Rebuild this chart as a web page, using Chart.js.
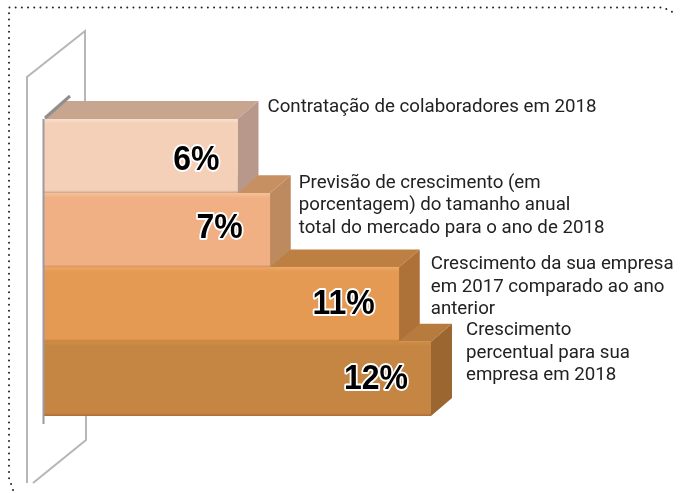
<!DOCTYPE html>
<html>
<head>
<meta charset="utf-8">
<style>
    html, body { margin: 0; padding: 0; background: #fff; }
    #wrap { position: relative; width: 680px; height: 493px; }
</style>
<script src="https://cdn.jsdelivr.net/npm/chart.js@4"></script>
</head>
<body>
<div id="wrap"><canvas id="chart" width="680" height="493"></canvas></div>
<script>
const categories = [
    ['Contratação de colaboradores em 2018'],
    ['Previsão de crescimento (em', 'porcentagem) do tamanho anual', 'total do mercado para o ano de 2018'],
    ['Crescimento da sua empresa', 'em 2017 comparado ao ano', 'anterior'],
    ['Crescimento', 'percentual para sua', 'empresa em 2018']
];
const values = [6, 7, 11, 12];
const frontEdge = ['#fbdfcc', '#f7c097', '#eea55f', '#cf8c45'];
const frontFace = ['#f5d0b9', '#f0b083', '#e59a54', '#c58643'];
const frontShade = ['#c9a088', '#c98f62', '#c47c36', '#b06a35'];
const topFaces = ['#c7a58e', '#c79062', '#bd7f42', '#b67b3d'];
const sideFaces = ['#b8988a', '#bd8a60', '#ad7238', '#9c6630'];

// label offset from the bar's front top right corner
const labelDx = [30, 29, 32, 35];
const labelDy = [-12, -10, -3, -11];
// value offset from the bar's right end / centre
const valueDx = [18, 27, 24, 23];
const valueDy = [4, -2, -1, 0];
const depthX = 21, depthY = 18;

// extruded faces + back wall, all hung off the scales
const box3d = {
    id: 'box3d',
    beforeDatasetsDraw(chart) {
        const ctx = chart.ctx;
        const x0 = chart.scales.x.getPixelForValue(0);
        const area = chart.chartArea;
        const bars = chart.getDatasetMeta(0).data;

        // wall behind the bars
        ctx.save();
        ctx.strokeStyle = '#b4b6ba';
        ctx.lineWidth = 2;
        ctx.beginPath();
        ctx.moveTo(x0 - 17, area.bottom + 67);
        ctx.lineTo(x0 - 17, area.top - 42);
        ctx.lineTo(x0 + 41, area.top - 88);
        ctx.lineTo(x0 + 41, area.top - 18);
        ctx.moveTo(x0 + 42, area.bottom);
        ctx.lineTo(x0 + 42, area.bottom + 24);
        ctx.lineTo(x0 - 11, area.bottom + 67);
        ctx.stroke();
        ctx.restore();

        for (let i = bars.length - 1; i >= 0; i--) {
            const b = bars[i];
            const top = b.y - b.height / 2, bottom = b.y + b.height / 2;
            ctx.fillStyle = topFaces[i];
            ctx.beginPath();
            ctx.moveTo(x0, top);
            ctx.lineTo(x0 + depthX, top - depthY);
            ctx.lineTo(b.x + depthX, top - depthY);
            ctx.lineTo(b.x, top);
            ctx.closePath();
            ctx.fill();
            ctx.fillStyle = sideFaces[i];
            ctx.beginPath();
            ctx.moveTo(b.x, top);
            ctx.lineTo(b.x + depthX, top - depthY);
            ctx.lineTo(b.x + depthX, bottom - depthY);
            ctx.lineTo(b.x, bottom);
            ctx.closePath();
            ctx.fill();
        }
        // dark sliver where the first bar meets the wall
        const first = bars[0];
        const firstTop = first.y - first.height / 2;
        ctx.strokeStyle = '#8f8f8f';
        ctx.lineWidth = 3;
        ctx.beginPath();
        ctx.moveTo(x0 + 1, firstTop - 1);
        ctx.lineTo(x0 + 26, firstTop - 23);
        ctx.stroke();
    },
    afterDatasetsDraw(chart) {
        const ctx = chart.ctx;
        const bars = chart.getDatasetMeta(0).data;
        const x0 = chart.scales.x.getPixelForValue(0);
        const area = chart.chartArea;

        ctx.strokeStyle = '#9a9aa4';
        ctx.lineWidth = 2;
        ctx.beginPath();
        ctx.moveTo(x0 - 0.5, area.top);
        ctx.lineTo(x0 - 0.5, area.bottom + 8);
        ctx.stroke();

        bars.forEach((b, i) => {
            const top = b.y - b.height / 2;
            // value on the front face, black with a white halo
            ctx.save();
            ctx.translate(b.x - valueDx[i], b.y + valueDy[i]);
            ctx.scale(1, 1.12);
            ctx.font = 'bold 32px "Liberation Sans"';
            ctx.textAlign = 'right';
            ctx.textBaseline = 'middle';
            ctx.lineJoin = 'round';
            ctx.lineWidth = 3.5;
            ctx.strokeStyle = '#fff';
            ctx.fillStyle = '#000';
            ctx.strokeText(values[i] + '%', 0, 0);
            ctx.fillText(values[i] + '%', 0, 0);
            ctx.restore();

            ctx.save();
            ctx.font = '400 18.7px Roboto';
            ctx.fillStyle = '#222';
            ctx.textBaseline = 'middle';
            categories[i].forEach((line, n) => {
                ctx.fillText(line, b.x + labelDx[i], top + labelDy[i] + n * 22.5);
            });
            ctx.restore();
        });

        // dotted frame
        ctx.save();
        ctx.strokeStyle = '#222';
        ctx.lineWidth = 2;
        ctx.lineCap = 'round';
        ctx.setLineDash([0, 6.2]);
        ctx.beginPath();
        ctx.moveTo(13, 490);
        ctx.lineTo(9, 478);
        ctx.lineTo(9, 7.5);
        ctx.lineTo(663, 7.5);
        ctx.lineTo(677, 14);
        ctx.stroke();
        ctx.restore();
    }
};

new Chart(document.getElementById('chart'), {
    type: 'bar',
    data: {
        labels: categories.map(c => c.join(' ')),
        datasets: [{
            data: values,
            backgroundColor(c) {
                const i = c.dataIndex;
                const area = c.chart.chartArea;
                if (!area) return frontFace[i];
                const band = area.height / categories.length;
                const g = c.chart.ctx.createLinearGradient(0, area.top + i * band, 0, area.top + (i + 1) * band);
                g.addColorStop(0, frontEdge[i]);
                g.addColorStop(0.06, frontFace[i]);
                g.addColorStop(0.96, frontFace[i]);
                g.addColorStop(1, frontShade[i]);
                return g;
            },
            barPercentage: 1,
            categoryPercentage: 1,
            borderWidth: 0
        }]
    },
    options: {
        indexAxis: 'y',
        responsive: false,
        animation: false,
        layout: { padding: { left: 44, right: 249, top: 119, bottom: 77 } },
        plugins: { legend: { display: false }, tooltip: { enabled: false } },
        scales: {
            x: { display: false, min: 0, max: 12 },
            y: { display: false }
        }
    },
    plugins: [box3d]
});
</script>
</body>
</html>
